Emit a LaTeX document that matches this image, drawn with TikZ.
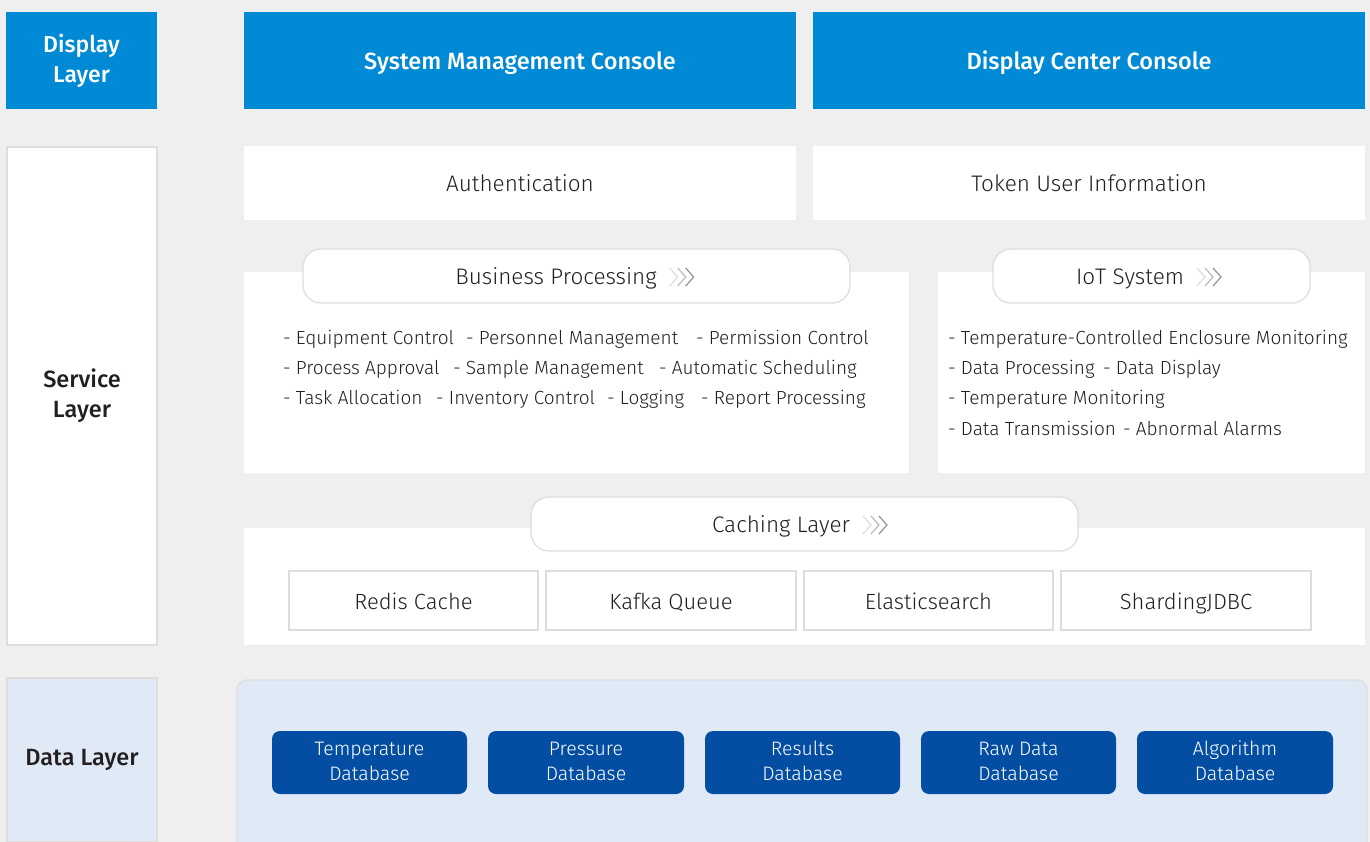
\documentclass[tikz,border=0pt]{standalone}
\usepackage{fontspec}
\setmainfont{Fira Sans Light}[BoldFont={Fira Sans Medium}]
\definecolor{bgc}{HTML}{EFEFEF}
\definecolor{hdblue}{HTML}{008AD5}
\definecolor{dbblue}{HTML}{034EA2}
\definecolor{paleblue}{HTML}{E0EAF6}
\definecolor{edge}{HTML}{DDDDDD}
\definecolor{ink}{HTML}{231F20}
\newcommand{\twolines}[2]{#1\strut\\#2\strut}
\begin{document}
\begin{tikzpicture}[x=1pt,y=-1pt,
  every node/.style={inner sep=0pt,outer sep=0pt},
  panel/.style={anchor=north west,rectangle,fill=white},
  header/.style={panel,fill=hdblue,text=white,font=\fontsize{23.5}{30}\selectfont\bfseries,align=center},
  layerbox/.style={panel,draw=edge,line width=1.2pt,text=ink,font=\fontsize{23.5}{30}\selectfont\bfseries,align=center},
  pill/.style={panel,rounded corners=18pt,draw=edge,line width=1.2pt},
  plain/.style={panel,text=ink,font=\fontsize{22.5}{25}\selectfont,text height=19pt,text depth=2pt},
  cachebox/.style={panel,draw=edge,line width=1.5pt,text=ink,font=\fontsize{22}{25}\selectfont,text height=19pt,text depth=2pt},
  dbbox/.style={panel,fill=dbblue,rounded corners=8pt,text=white,font=\fontsize{19.5}{25}\selectfont,align=center},
  item/.style={anchor=base west,text=ink,font=\fontsize{19}{23}\selectfont},
  ptitle/.style={anchor=base,text=ink,font=\fontsize{22.5}{25}\selectfont},
  chev/.style={line width=1.3pt}
]
% canvas
\path[fill=bgc] (0,0) rectangle (1370,842);
\useasboundingbox (0,0) rectangle (1370,842);

% display layer
\node[header,font=\fontsize{23}{30}\selectfont\bfseries,minimum width=151pt,minimum height=97pt] (dl) at (6,12) {Display\\Layer};
\node[header,text height=18.4pt,text depth=0pt,minimum width=552pt,minimum height=97pt] (smc) at (244,12) {System Management Console};
\node[header,text height=18.4pt,text depth=0pt,minimum width=552pt,minimum height=97pt] (dcc) at (813,12) {Display Center Console};

% service layer
\node[layerbox,minimum width=150pt,minimum height=498pt] (sl) at (7,147) {Service\\Layer};
\node[plain,minimum width=552pt,minimum height=74pt] (auth) at (244,146) {Authentication};
\node[plain,minimum width=552pt,minimum height=74pt] (tok) at (813,146) {Token User Information};

% business processing
\node[panel,minimum width=665pt,minimum height=201pt] (bp) at (244,272) {};
\node[pill,minimum width=547pt,minimum height=54pt] (bpp) at (303,249) {};
\node[ptitle] (bpt) at (556,284) {Business Processing};

% iot system
\node[panel,minimum width=427pt,minimum height=201pt] (iot) at (938,272) {};
\node[pill,minimum width=317pt,minimum height=54pt] (iotp) at (993,249) {};
\node[ptitle] (iott) at (1130,284) {IoT System};

% caching layer
\node[panel,minimum width=1121pt,minimum height=117pt] (cl) at (244,528) {};
\node[pill,minimum width=547pt,minimum height=54pt] (clp) at (531,497) {};
\node[ptitle] (clt) at (781,532) {Caching Layer};

% chevrons after each title
\foreach \t in {bpt,iott,clt}{
  \foreach \k/\c in {0/gray!25,1/gray!50,2/gray!80}{
    \draw[chev,\c] ([xshift=13pt+\k*8pt,yshift=16pt]\t.base east) -- ++(8pt,-9pt) -- ++(-8pt,-9pt);
  }
}

% business items
\node[item] (b1) at (283,344) {- Equipment Control};
\node[item] (b2) at (466,344) {- Personnel Management};
\node[item] (b3) at (696,344) {- Permission Control};
\node[item] (b4) at (283,374) {- Process Approval};
\node[item] (b5) at (453,374) {- Sample Management};
\node[item] (b6) at (659,374) {- Automatic Scheduling};
\node[item] (b7) at (283,404) {- Task Allocation};
\node[item] (b8) at (436,404) {- Inventory Control};
\node[item] (b9) at (607,404) {- Logging};
\node[item] (b10) at (701,404) {- Report Processing};

% iot items
\node[item] (i1) at (948,344) {- Temperature-Controlled Enclosure Monitoring};
\node[item] (i2) at (948,374) {- Data Processing};
\node[item] (i3) at (1103,374) {- Data Display};
\node[item] (i4) at (948,404) {- Temperature Monitoring};
\node[item] (i5) at (948,435) {- Data Transmission};
\node[item] (i6) at (1123,435) {- Abnormal Alarms};

% cache components
\node[cachebox,minimum width=249pt,minimum height=59pt] (redis) at (289,571) {Redis Cache};
\node[cachebox,minimum width=250pt,minimum height=59pt] (kafka) at (546,571) {Kafka Queue};
\node[cachebox,minimum width=249pt,minimum height=59pt] (es) at (804,571) {Elasticsearch};
\node[cachebox,minimum width=250pt,minimum height=59pt] (sj) at (1061,571) {ShardingJDBC};

% data layer
\node[layerbox,fill=paleblue,minimum width=150pt,minimum height=164pt] (dal) at (7,678) {Data Layer};
\node[panel,fill=paleblue,draw=edge,line width=1.2pt,rounded corners=10pt,minimum width=1130pt,minimum height=175pt] (dreg) at (237,680) {};
\node[dbbox,minimum width=195pt,minimum height=63pt] (db1) at (272,731) {\twolines{Temperature}{Database}};
\node[dbbox,minimum width=196pt,minimum height=63pt] (db2) at (488,731) {\twolines{Pressure}{Database}};
\node[dbbox,minimum width=195pt,minimum height=63pt] (db3) at (705,731) {\twolines{Results}{Database}};
\node[dbbox,minimum width=195pt,minimum height=63pt] (db4) at (921,731) {\twolines{Raw Data}{Database}};
\node[dbbox,minimum width=196pt,minimum height=63pt] (db5) at (1137,731) {\twolines{Algorithm}{Database}};
\end{tikzpicture}
\end{document}
